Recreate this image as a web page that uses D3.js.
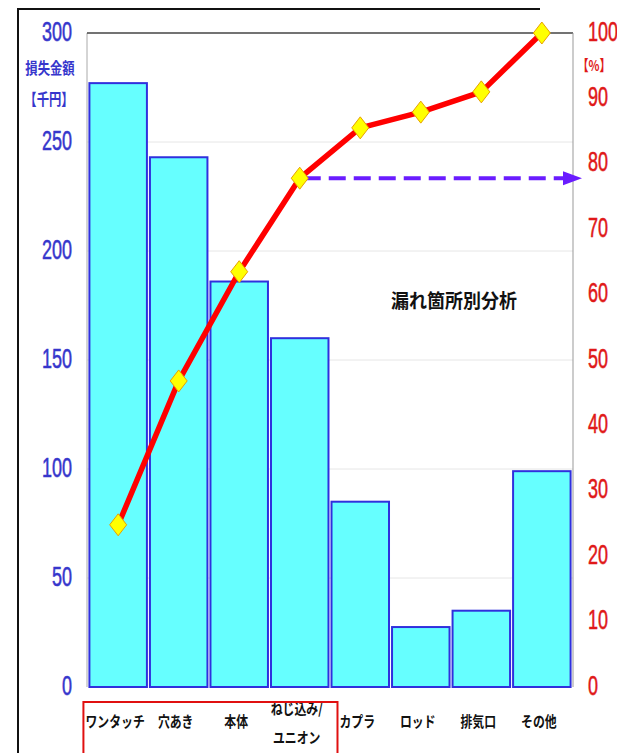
<!DOCTYPE html>
<html>
<head>
<meta charset="utf-8">
<script src="https://cdn.jsdelivr.net/npm/d3@7/dist/d3.min.js"></script>
<style>
  html, body { margin: 0; padding: 0; background: #fff; }
  svg { display: block; }
</style>
</head>
<body>
<div id="chart"></div>
<script>
'use strict';

// categories and values
var categories = ['ワンタッチ', '穴あき', '本体', 'ねじ込み/\nユニオン', 'カプラ', 'ロッド', '排気口', 'その他'];
var lossValues = [277, 243, 186, 160, 85, 27.5, 35, 99];          // 損失金額 [千円]
var cumPercent = [24.8, 46.8, 63.5, 77.8, 85.5, 87.9, 91.0, 100]; // 累積 [%]
var leftTicks = [0, 50, 100, 150, 200, 250, 300];
var rightTicks = [0, 10, 20, 30, 40, 50, 60, 70, 80, 90, 100];
var boxedCount = 4;   // first four categories sit in the red box
var arrowFrom = 3;    // dashed arrow starts at the 4th point

var W = 617, H = 753;
var plot = { left: 87, right: 573, top: 33, bottom: 687 };

var svg = d3.select('#chart').append('svg')
    .attr('width', W)
    .attr('height', H);

// outer frame
svg.append('path')
    .attr('d', 'M18,' + H + 'V9H540')
    .attr('fill', 'none')
    .attr('stroke', '#111')
    .attr('stroke-width', 2);

var x = d3.scaleBand()
    .domain(categories)
    .range([plot.left, plot.right])
    .paddingInner(0.05)
    .paddingOuter(0.04);

var yL = d3.scaleLinear().domain([0, 300]).range([plot.bottom, plot.top]);
var yR = d3.scaleLinear().domain([0, 100]).range([plot.bottom, plot.top]);

// faint grid lines
svg.append('g')
  .selectAll('line')
  .data(leftTicks.slice(1, -1))
  .join('line')
    .attr('x1', plot.left).attr('x2', plot.right)
    .attr('y1', function(d){ return yL(d); })
    .attr('y2', function(d){ return yL(d); })
    .attr('stroke', '#e6e6e6')
    .attr('stroke-width', 1);

// plot border
svg.append('path')
    .attr('d', 'M' + plot.left + ',' + plot.bottom + 'V' + plot.top)
    .attr('stroke', '#aaa').attr('fill', 'none');
svg.append('path')
    .attr('d', 'M' + plot.left + ',' + plot.top + 'H' + plot.right)
    .attr('stroke', '#444').attr('stroke-width', 1.5).attr('fill', 'none');
svg.append('path')
    .attr('d', 'M' + plot.right + ',' + plot.top + 'V' + plot.bottom)
    .attr('stroke', '#999').attr('fill', 'none');

// bars
svg.append('g')
  .selectAll('rect')
  .data(lossValues)
  .join('rect')
    .attr('x', function(d, i){ return x(categories[i]); })
    .attr('width', x.bandwidth())
    .attr('y', function(d){ return yL(d); })
    .attr('height', function(d){ return yL(0) - yL(d); })
    .attr('fill', '#66ffff')
    .attr('stroke', '#3030dd')
    .attr('stroke-width', 2);

// axes
function styleNumbers(g, color, anchor, pad) {
  g.select('.domain').remove();
  g.selectAll('.tick line').remove();
  g.selectAll('.tick text')
      .attr('x', null)
      .attr('dy', null)
      .attr('fill', color)
      .attr('stroke', color)
      .attr('stroke-width', 0.4)
      .attr('text-anchor', anchor)
      .style('font-family', "'Liberation Sans', Arial, sans-serif")
      .style('font-size', '20px')
      .attr('transform', 'translate(' + pad + ',7) scale(0.9,1.35)');
}

svg.append('g')
    .attr('transform', 'translate(' + plot.left + ',0)')
    .call(d3.axisLeft(yL).tickValues(leftTicks).tickSize(0))
    .call(styleNumbers, '#3636cc', 'end', -15);

svg.append('g')
    .attr('transform', 'translate(' + plot.right + ',0)')
    .call(d3.axisRight(yR).tickValues(rightTicks).tickSize(0))
    .call(styleNumbers, '#e01818', 'start', 15);

// unit labels
var jp = "'Noto Sans CJK JP', sans-serif";
svg.append('text')
    .attr('transform', 'translate(50,74) scale(0.95,1.2)')
    .attr('text-anchor', 'middle')
    .attr('fill', '#3636cc')
    .style('font-family', jp).style('font-weight', 'bold').style('font-size', '13px')
    .text('損失金額');
svg.append('text')
    .attr('transform', 'translate(49,105) scale(0.95,1.25)')
    .attr('text-anchor', 'middle')
    .attr('fill', '#3636cc')
    .style('font-family', jp).style('font-weight', 'bold').style('font-size', '13px')
    .text('【千円】');
svg.append('text')
    .attr('transform', 'translate(594,71) scale(0.95,1.25)')
    .attr('text-anchor', 'middle')
    .attr('fill', '#e01818')
    .style('font-family', jp).style('font-weight', 'bold').style('font-size', '12px')
    .text('【%】');

// category axis
var xAxis = svg.append('g')
    .attr('transform', 'translate(0,' + plot.bottom + ')')
    .call(d3.axisBottom(x).tickSize(0));
xAxis.select('.domain').remove();
xAxis.selectAll('.tick text').each(function(d){
  var t = d3.select(this);
  var lines = d.split('\n');
  t.text(null)
      .attr('y', null).attr('dy', null)
      .attr('fill', '#111')
      .style('font-family', jp).style('font-weight', 'bold').style('font-size', '12.5px')
      .attr('transform', 'translate(-3,' + (lines.length > 1 ? 27 : 40) + ') scale(0.95,1.2)');
  lines.forEach(function(s, i){
    t.append('tspan').attr('x', 0).attr('dy', i ? 24 : 0).text(s);
  });
});

// red box round the first categories
var bx0 = x(categories[0]) - 6;
var bx1 = x(categories[boxedCount - 1]) + x.bandwidth() + 9;
svg.append('rect')
    .attr('x', bx0).attr('y', 702)
    .attr('width', bx1 - bx0).attr('height', 70)
    .attr('fill', 'none')
    .attr('stroke', '#e01010')
    .attr('stroke-width', 2);

// cumulative line
var cx = function(d, i){ return x(categories[i]) + x.bandwidth() / 2; };
svg.append('path')
    .datum(cumPercent)
    .attr('d', d3.line().x(cx).y(function(d){ return yR(d); }))
    .attr('fill', 'none')
    .attr('stroke', '#ff0000')
    .attr('stroke-width', 5.5)
    .attr('stroke-linejoin', 'round');

// dashed arrow to the right axis
var ay = yR(cumPercent[arrowFrom]);
var ax0 = cx(null, arrowFrom) + 4;
svg.append('line')
    .attr('x1', ax0).attr('x2', plot.right - 8)
    .attr('y1', ay).attr('y2', ay)
    .attr('stroke', '#6a1cff')
    .attr('stroke-width', 4)
    .attr('stroke-dasharray', '17,8');
svg.append('path')
    .attr('d', 'M' + (plot.right - 10) + ',' + (ay - 7) + 'L' + (plot.right + 9) + ',' + ay + 'L' + (plot.right - 10) + ',' + (ay + 7) + 'Z')
    .attr('fill', '#6a1cff');

// diamond markers
svg.append('g')
  .selectAll('path')
  .data(cumPercent)
  .join('path')
    .attr('transform', function(d, i){ return 'translate(' + cx(d, i) + ',' + yR(d) + ')'; })
    .attr('d', 'M0,-11L8.5,0L0,11L-8.5,0Z')
    .attr('fill', '#ffff00')
    .attr('stroke', '#e8a000')
    .attr('stroke-width', 1);

// title
svg.append('text')
    .attr('x', 454).attr('y', 308)
    .attr('text-anchor', 'middle')
    .attr('fill', '#111')
    .attr('transform', 'translate(454,308) scale(1,1.1) translate(-454,-308)')
    .style('font-family', jp).style('font-weight', 'bold').style('font-size', '18px')
    .text('漏れ箇所別分析');
</script>
</body>
</html>
